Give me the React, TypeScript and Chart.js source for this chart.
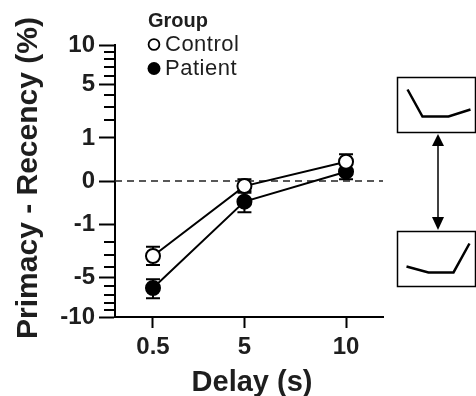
import React, { useEffect, useRef } from 'react';
import { Chart, registerables } from 'chart.js';

Chart.register(...registerables);

// ---- data ----
const delays = [0.5, 5, 10];
const delayTicks = [0.5, 5, 10];
const controlMean = [-3.04, -0.014, 0.2];
const controlLow = [-3.82, -0.074, 0.073];
const controlHigh = [-2.33, 0.0016, 0.39];
const patientMean = [-6.19, -0.23, 0.047];
const patientLow = [-7.44, -0.53, 0.0016];
const patientHigh = [-5.23, -0.054, 0.156];
const yMajorTicks = [-10, -5, -1, 0, 1, 5, 10];
const yMinorTicks = [-9, -8, -7, -6, -4, -3, -2, 2, 3, 4, 6, 7, 8, 9];
const legendTitle = 'Group';
const legendLabels = ['Control', 'Patient'];
const xTitle = 'Delay (s)';
const yTitle = 'Primacy - Recency (%)';
// schematic inset icons (fractions of their boxes)
const insetTopShape = [[0.127, 0.218], [0.316, 0.709], [0.646, 0.709], [0.924, 0.582]];
const insetBottomShape = [[0.114, 0.636], [0.392, 0.745], [0.709, 0.745], [0.911, 0.218]];

const sq = (v: number) => Math.sign(v) * Math.sqrt(Math.abs(v));
const unsq = (v: number) => Math.sign(v) * v * v;

const FONT = '"Liberation Sans", Arial, Helvetica, sans-serif';
const INK = '#1e1e1e';

const decorPlugin = {
  id: 'decor',
  beforeDatasetsDraw(chart: any) {
    const { ctx, chartArea, scales } = chart;
    const xs = scales.x;
    const ys = scales.y;
    ctx.save();
    // zero dashed line
    const y0 = ys.getPixelForValue(0);
    ctx.strokeStyle = '#222';
    ctx.lineWidth = 1.6;
    ctx.setLineDash([7, 5]);
    ctx.beginPath();
    ctx.moveTo(chartArea.left, y0);
    ctx.lineTo(chartArea.right, y0);
    ctx.stroke();
    ctx.setLineDash([]);
    // error bars
    ctx.strokeStyle = '#000';
    ctx.lineWidth = 2;
    const series = [
      [controlLow, controlHigh],
      [patientLow, patientHigh],
    ];
    series.forEach(([lo, hi]) => {
      delays.forEach((d, i) => {
        const x = xs.getPixelForValue(d);
        const yl = ys.getPixelForValue(sq(lo[i]));
        const yh = ys.getPixelForValue(sq(hi[i]));
        ctx.beginPath();
        ctx.moveTo(x, yl);
        ctx.lineTo(x, yh);
        ctx.moveTo(x - 7, yl);
        ctx.lineTo(x + 7, yl);
        ctx.moveTo(x - 7, yh);
        ctx.lineTo(x + 7, yh);
        ctx.stroke();
      });
    });
    ctx.restore();
  },
  afterDraw(chart: any) {
    const { ctx, chartArea, scales } = chart;
    const ys = scales.y;
    ctx.save();
    // minor y ticks
    ctx.strokeStyle = '#000';
    ctx.lineWidth = 2;
    yMinorTicks.forEach((v) => {
      const y = Math.round(ys.getPixelForValue(sq(v)));
      ctx.beginPath();
      ctx.moveTo(chartArea.left - 11, y);
      ctx.lineTo(chartArea.left, y);
      ctx.stroke();
    });
    // axis titles
    ctx.fillStyle = INK;
    ctx.font = `bold 29px ${FONT}`;
    ctx.textAlign = 'center';
    ctx.textBaseline = 'alphabetic';
    ctx.fillText(xTitle, 252, 391);
    ctx.save();
    ctx.translate(37, 178);
    ctx.rotate(-Math.PI / 2);
    ctx.font = `bold 30px ${FONT}`;
    ctx.fillText(yTitle, 0, 0);
    ctx.restore();
    // legend
    ctx.textAlign = 'left';
    ctx.font = `bold 20px ${FONT}`;
    ctx.fillText(legendTitle, 148, 27);
    ctx.font = `22px ${FONT}`;
    (ctx as any).letterSpacing = '0.5px';
    ctx.fillText(legendLabels[0], 165, 51);
    ctx.fillText(legendLabels[1], 165, 75);
    (ctx as any).letterSpacing = '0px';
    ctx.lineWidth = 1.8;
    ctx.strokeStyle = '#000';
    ctx.fillStyle = '#fff';
    ctx.beginPath();
    ctx.arc(154, 44.5, 5.4, 0, Math.PI * 2);
    ctx.fill();
    ctx.stroke();
    ctx.fillStyle = '#000';
    ctx.beginPath();
    ctx.arc(154, 68.5, 6.5, 0, Math.PI * 2);
    ctx.fill();
    // insets
    const boxes = [
      { x: 397.5, y: 77.5, w: 78, h: 55, shape: insetTopShape },
      { x: 397.5, y: 231.5, w: 78, h: 55, shape: insetBottomShape },
    ];
    boxes.forEach((b) => {
      ctx.lineWidth = 1.5;
      ctx.strokeRect(b.x, b.y, b.w, b.h);
      ctx.lineWidth = 2.5;
      ctx.beginPath();
      b.shape.forEach(([fx, fy], i) => {
        const px = b.x + fx * 79;
        const py = b.y + fy * 55;
        if (i === 0) ctx.moveTo(px, py);
        else ctx.lineTo(px, py);
      });
      ctx.stroke();
    });
    // double arrow
    ctx.lineWidth = 1.5;
    ctx.beginPath();
    ctx.moveTo(438, 144);
    ctx.lineTo(438, 218);
    ctx.stroke();
    ctx.beginPath();
    ctx.moveTo(438, 134);
    ctx.lineTo(444, 146);
    ctx.lineTo(432, 146);
    ctx.closePath();
    ctx.fill();
    ctx.beginPath();
    ctx.moveTo(438, 230);
    ctx.lineTo(444, 217);
    ctx.lineTo(432, 217);
    ctx.closePath();
    ctx.fill();
    ctx.restore();
  },
};

export default function App() {
  const ref = useRef<HTMLCanvasElement>(null);
  useEffect(() => {
    if (!ref.current) return;
    const mk = (m: number[]) => delays.map((d, i) => ({ x: d, y: sq(m[i]) }));
    const chart = new Chart(ref.current, {
      type: 'line',
      data: {
        datasets: [
          {
            label: legendLabels[0],
            data: mk(controlMean),
            borderColor: '#000',
            borderWidth: 2,
            pointRadius: 7,
            pointBorderWidth: 2,
            pointBackgroundColor: '#fff',
            pointBorderColor: '#000',
            clip: false as any,
          },
          {
            label: legendLabels[1],
            data: mk(patientMean),
            borderColor: '#000',
            borderWidth: 2,
            pointRadius: 7,
            pointBorderWidth: 2,
            pointBackgroundColor: '#000',
            pointBorderColor: '#000',
            clip: false as any,
          },
        ],
      },
      options: {
        animation: false,
        responsive: false,
        devicePixelRatio: 1,
        layout: { padding: { top: 45, right: 93, bottom: 0, left: 0 } },
        plugins: { legend: { display: false }, tooltip: { enabled: false } },
        scales: {
          x: {
            type: 'linear',
            min: -1.37,
            max: 11.82,
            afterBuildTicks: (s: any) => {
              s.ticks = delayTicks.map((v) => ({ value: v }));
            },
            afterFit: (s: any) => {
              s.height = 79;
            },
            grid: { drawOnChartArea: false, tickLength: 11, tickWidth: 2, tickColor: '#000' },
            border: { width: 2, color: '#000' },
            ticks: {
              color: INK,
              font: { family: FONT, size: 24, weight: 'bold' },
              padding: 5,
              maxRotation: 0,
              callback: (v: any) => String(v),
            },
          },
          y: {
            type: 'linear',
            min: -Math.sqrt(10),
            max: Math.sqrt(10),
            afterBuildTicks: (s: any) => {
              s.ticks = yMajorTicks.map((v) => ({ value: sq(v) }));
            },
            afterFit: (s: any) => {
              s.width = 115;
            },
            grid: { drawOnChartArea: false, tickLength: 16, tickWidth: 2, tickColor: '#000' },
            border: { width: 2, color: '#000' },
            ticks: {
              color: INK,
              font: { family: FONT, size: 24, weight: 'bold' },
              padding: 4,
              callback: (v: any) => String(Math.round(unsq(Number(v)))),
            },
          },
        },
      },
      plugins: [decorPlugin],
    } as any);
    return () => chart.destroy();
  }, []);
  return (
    <div style={{ position: 'absolute', left: 0, top: 0, width: 476, height: 396, background: '#fff' }}>
      <canvas ref={ref} width={476} height={396} style={{ width: 476, height: 396 }} />
    </div>
  );
}
